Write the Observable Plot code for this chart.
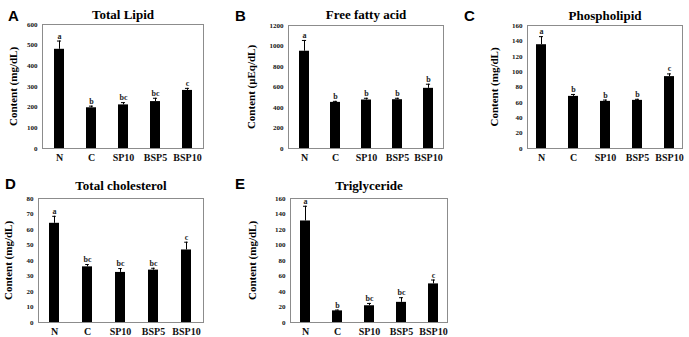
<!DOCTYPE html>
<html>
<head>
<meta charset="utf-8">
<script src="https://cdn.jsdelivr.net/npm/d3@7"></script>
<script src="https://cdn.jsdelivr.net/npm/@observablehq/plot@0.6"></script>
<style>
  html, body { margin: 0; padding: 0; background: #fff; }
  #wrap { position: relative; width: 689px; height: 337px; overflow: hidden; }
  .panel { position: absolute; }
  .letter { position: absolute; font-family: "Liberation Sans", Arial, sans-serif; font-weight: bold; font-size: 15px; line-height: 1; }
</style>
</head>
<body>
<div id="wrap"></div>
<script>
const groups = ["N", "C", "SP10", "BSP5", "BSP10"];

const totalLipid = [480, 197, 211, 227, 281];
const totalLipidErr = [40, 8, 11, 16, 10];
const totalLipidSig = ["a", "b", "bc", "bc", "c"];

const freeFattyAcid = [949, 450, 473, 476, 587];
const freeFattyAcidErr = [105, 10, 17, 14, 40];
const freeFattyAcidSig = ["a", "b", "b", "b", "b"];

const phospholipid = [135, 67.8, 61.3, 62.6, 93.5];
const phospholipidErr = [10.5, 2.5, 1.7, 1.4, 3.5];
const phospholipidSig = ["a", "b", "b", "b", "c"];

const totalCholesterol = [64, 35.9, 32.3, 33.8, 46.8];
const totalCholesterolErr = [4.5, 1.5, 2.5, 1.2, 5];
const totalCholesterolSig = ["a", "bc", "bc", "bc", "c"];

const triglyceride = [131, 15, 21.6, 26, 49.8];
const triglycerideErr = [19, 1, 3, 6, 5];
const triglycerideSig = ["a", "b", "bc", "bc", "c"];

const panels = [
  {letter: "A", title: "Total Lipid", ylabel: "Content (mg/dL)", values: totalLipid, errs: totalLipidErr, sig: totalLipidSig, ymax: 600, step: 100,
   left: 0, top: 0, width: 230, height: 170, mL: 42, mR: 27, mT: 24, mB: 22, titleDy: -10, labelDx: -29, po: 0.36, lx: 8, ly: 8},
  {letter: "B", title: "Free fatty acid", ylabel: "Content (μEq/dL)", values: freeFattyAcid, errs: freeFattyAcidErr, sig: freeFattyAcidSig, ymax: 1200, step: 200,
   left: 230, top: 0, width: 230, height: 170, mL: 58, mR: 17, mT: 25, mB: 22, titleDy: -11, labelDx: -37, po: 0.29, lx: 235, ly: 8},
  {letter: "C", title: "Phospholipid", ylabel: "Content (mg/dL)", values: phospholipid, errs: phospholipidErr, sig: phospholipidSig, ymax: 160, step: 20,
   left: 460, top: 0, width: 229, height: 170, mL: 67, mR: 7, mT: 25, mB: 22, titleDy: -10, labelDx: -33, po: 0.25, lx: 464, ly: 8},
  {letter: "D", title: "Total cholesterol", ylabel: "Content (mg/dL)", values: totalCholesterol, errs: totalCholesterolErr, sig: totalCholesterolSig, ymax: 80, step: 10,
   left: 0, top: 170, width: 230, height: 167, mL: 38, mR: 27, mT: 28, mB: 15, titleDy: -13, labelDx: -30, po: 0.3, lx: 5, ly: 176},
  {letter: "E", title: "Triglyceride", ylabel: "Content (mg/dL)", values: triglyceride, errs: triglycerideErr, sig: triglycerideSig, ymax: 160, step: 20,
   left: 230, top: 170, width: 230, height: 167, mL: 60, mR: 13, mT: 28, mB: 15, titleDy: -13, labelDx: -38, po: 0.27, lx: 235, ly: 176}
];

const wrap = document.getElementById("wrap");
const serif = "'Liberation Serif', 'Times New Roman', serif";

for (const p of panels) {
  const data = groups.map((g, i) => ({g, v: p.values[i], e: p.errs[i], s: p.sig[i]}));
  const plotW = p.width - p.mL - p.mR;
  const stepPx = plotW / (5 - 0.69 + 2 * p.po);
  const capInset = Math.max(0, (stepPx * 0.31 - 4) / 2);
  const chart = Plot.plot({
    width: p.width,
    height: p.height,
    marginLeft: p.mL,
    marginRight: p.mR,
    marginTop: p.mT,
    marginBottom: p.mB,
    style: {fontFamily: serif, fontWeight: "bold", color: "#111", background: "transparent", overflow: "visible"},
    x: {domain: groups, paddingInner: 0.69, paddingOuter: p.po, axis: null},
    y: {domain: [0, p.ymax], axis: null},
    marks: [
      Plot.axisY({ticks: d3.range(0, p.ymax + 0.001, p.step), tickSize: 0, tickPadding: 5, fontSize: 7, tickFormat: d => String(d), label: null}),
      Plot.axisX({tickSize: 0, tickPadding: 5, fontSize: 10, label: null}),
      Plot.barY(data, {x: "g", y: "v", fill: "black"}),
      Plot.ruleX(data, {x: "g", y1: "v", y2: d => d.v + d.e, stroke: "black", strokeWidth: 1}),
      Plot.tickY(data, {x: "g", y: d => d.v + d.e, stroke: "black", strokeWidth: 1, insetLeft: capInset, insetRight: capInset}),
      Plot.text(data, {x: "g", y: d => d.v + d.e, text: "s", dy: -5, fontSize: 8, fill: "#222"}),
      Plot.frame({stroke: "#8c8c8c", strokeWidth: 1}),
      Plot.text([p.title], {frameAnchor: "top", dy: p.titleDy, fontSize: 13, fill: "black", lineAnchor: "middle"}),
      Plot.text([p.ylabel], {frameAnchor: "left", dx: p.labelDx, rotate: -90, textAnchor: "middle", lineAnchor: "middle", fontSize: 11, fill: "black"})
    ]
  });
  const div = document.createElement("div");
  div.className = "panel";
  div.style.left = p.left + "px";
  div.style.top = p.top + "px";
  div.appendChild(chart);
  wrap.appendChild(div);
  const lt = document.createElement("div");
  lt.className = "letter";
  lt.style.left = p.lx + "px";
  lt.style.top = p.ly + "px";
  lt.textContent = p.letter;
  wrap.appendChild(lt);
}
</script>
</body>
</html>
